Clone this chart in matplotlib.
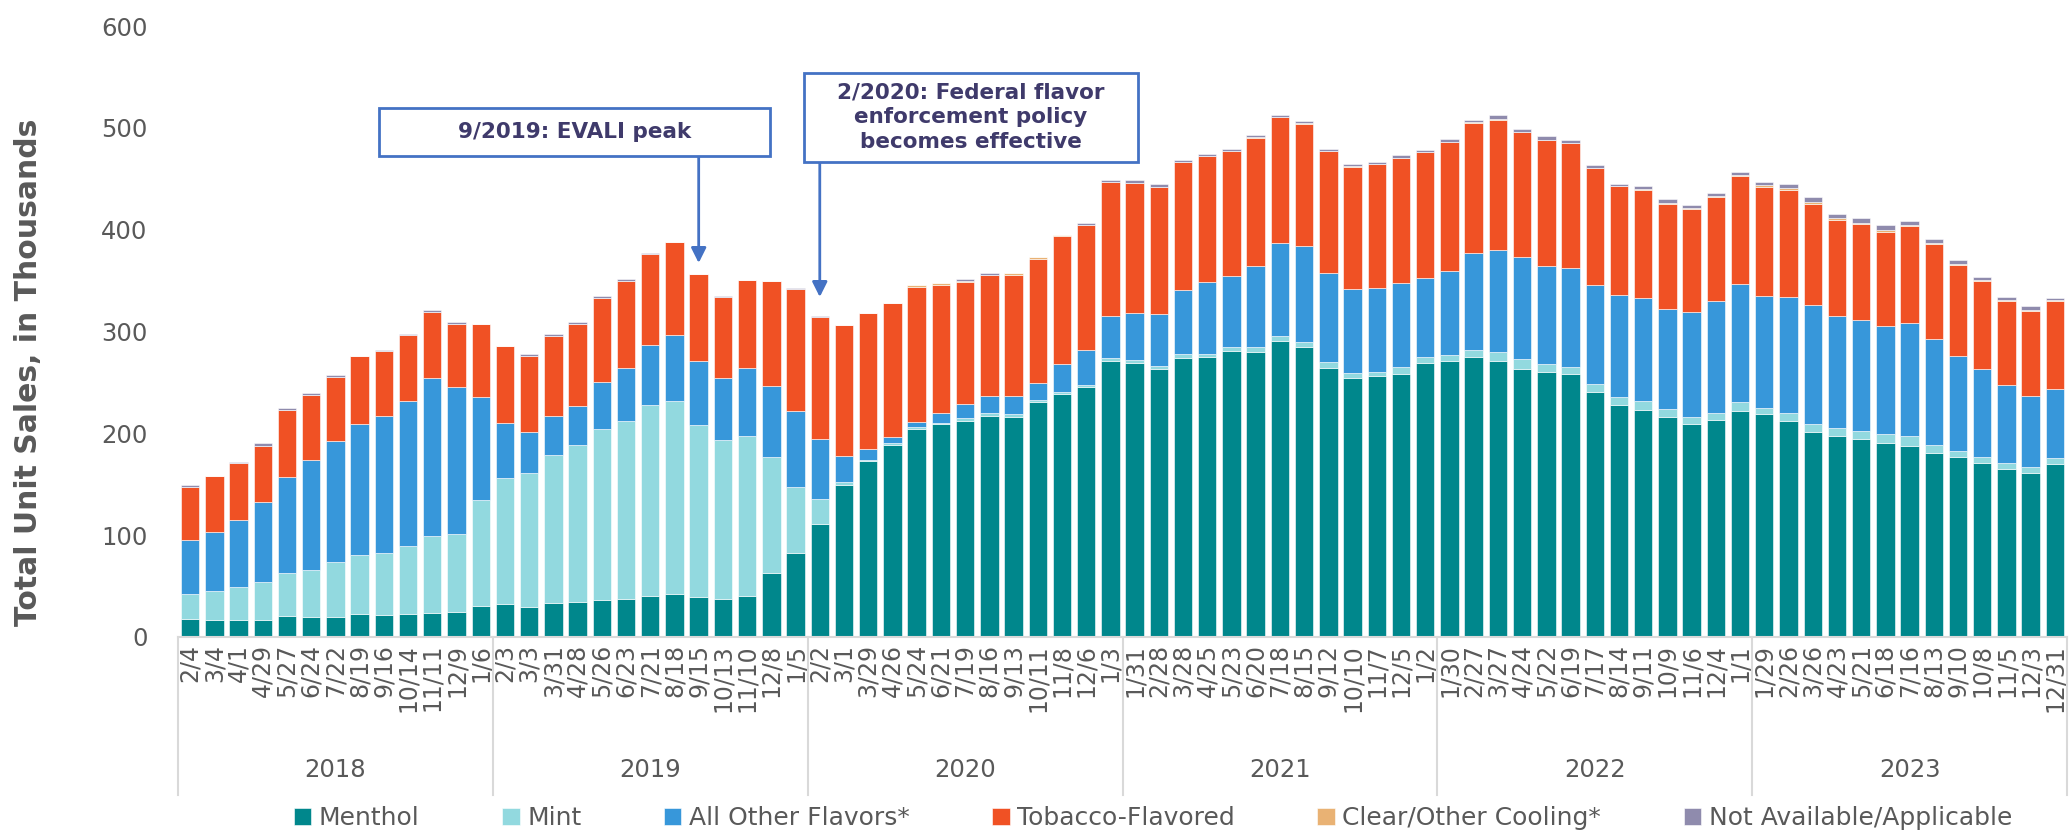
import matplotlib
matplotlib.use("Agg")
import matplotlib.pyplot as plt
from matplotlib.patches import Rectangle
import numpy as np

plt.rcParams['font.family'] = ['DejaVu Sans']

# ---------------- data ----------------
years = ["2018", "2019", "2020", "2021", "2022", "2023"]
periods = [
    "2/4", "3/4", "4/1", "4/29", "5/27", "6/24", "7/22", "8/19", "9/16", "10/14", "11/11", "12/9", "1/6",
    "2/3", "3/3", "3/31", "4/28", "5/26", "6/23", "7/21", "8/18", "9/15", "10/13", "11/10", "12/8", "1/5",
    "2/2", "3/1", "3/29", "4/26", "5/24", "6/21", "7/19", "8/16", "9/13", "10/11", "11/8", "12/6", "1/3",
    "1/31", "2/28", "3/28", "4/25", "5/23", "6/20", "7/18", "8/15", "9/12", "10/10", "11/7", "12/5", "1/2",
    "1/30", "2/27", "3/27", "4/24", "5/22", "6/19", "7/17", "8/14", "9/11", "10/9", "11/6", "12/4", "1/1",
    "1/29", "2/26", "3/26", "4/23", "5/21", "6/18", "7/16", "8/13", "9/10", "10/8", "11/5", "12/3", "12/31",
]

menthol = [18, 17, 17, 17, 20.5, 19.5, 20, 22.6, 21.6, 22.6,
           23.3, 25, 30.6, 32.4, 29.2, 33.4, 34.1, 36.5, 37.6, 40,
           42, 39.3, 37.2, 40.7, 62.6, 82.8, 111.4, 149.6, 173, 188.6,
           204.3, 209, 212.6, 216.8, 215.8, 230.7, 238.4, 245.7, 271.4, 269.4,
           263.4, 273.9, 274.6, 280.5, 280, 290.6, 284.7, 264.1, 254.4, 256,
           258.6, 268.7, 270.7, 274.6, 271, 263.4, 260, 258.2, 240.8, 228.3,
           223.4, 215.8, 208.8, 213, 222, 218.5, 212.3, 201.1, 197.3, 194.9,
           190.4, 187.6, 180.6, 176.8, 171.2, 164.6, 160.8, 169.5]

mint = [24, 28, 32, 37, 42.5, 46, 54, 58, 61, 66.5,
        75.5, 76, 104.4, 124, 132, 145.5, 154, 168, 175, 187.6,
        190, 169, 156.6, 157, 114, 64.4, 24.3, 2.5, 1, 1.8,
        1.7, 1.5, 2, 2.8, 2.7, 2, 2.4, 2, 2.5, 2.8,
        2.8, 3.8, 3.4, 3.8, 4.7, 5.2, 4.8, 6.3, 4.5, 4.6,
        6.2, 6.6, 6, 7, 8.8, 9.4, 8, 7.3, 7.7, 7.7,
        8, 8.3, 7, 7.3, 8.4, 6.7, 7.7, 7.7, 8, 7.6,
        9.4, 9.4, 8.4, 5.6, 5.9, 6.3, 5.9, 6.2]

other_flavors = [53, 58, 66, 79, 94.6, 108, 118.6, 129, 134.7, 142.4,
                 155.6, 144.8, 100.2, 53.5, 40, 38, 38.6, 45.7, 51.5, 58.8,
                 65, 62.5, 60.6, 66, 70, 74.8, 59, 26, 10.4, 5.6,
                 5.6, 9, 14, 17, 18, 16.7, 27, 34, 41, 46,
                 50.5, 63, 71, 70, 80, 91.5, 94.7, 87, 83, 82.5,
                 82.5, 77.2, 82.4, 95.4, 100.6, 100.6, 96, 96.4, 97, 99.8,
                 101.6, 98, 103, 109.3, 116.2, 109.2, 114, 117.6, 109.7, 109,
                 105.4, 111.7, 104, 93.9, 85.6, 76.5, 69.9, 67.6]

tobacco = [52, 55, 56, 55, 65, 64, 62.6, 66, 64, 65.4,
           65, 62, 72, 76, 75, 79, 81, 83, 85.8, 90,
           90.5, 85.6, 79.7, 87, 102.7, 120, 120, 128, 133.6, 131.8,
           132, 126.3, 120.4, 118.4, 119.4, 121.8, 125.6, 123, 131.5, 127.8,
           125.3, 125.6, 123.2, 122.7, 125.6, 122.9, 120, 120, 120, 121,
           122.8, 123.5, 127, 128, 127.7, 122.5, 124.2, 123.1, 114.8, 106.9,
           105.5, 103.4, 101.6, 102.3, 105.8, 107.6, 105.2, 98.9, 94.6, 94,
           92.6, 94.6, 92.6, 89.4, 86.7, 82.5, 83.6, 86.6]

clear_cooling = [0] * 30 + \
    [2, 1.7, 0.3, 0.3, 1.7, 2, 1.7, 0.3, 0.3, 0.3,
     0.3, 0.3, 0.3, 0.3, 0.3, 0.3, 0.3, 0.3, 0.3, 0.3,
     0.3, 0.3, 0.3, 0.3, 0.3, 0.3, 0.3, 0.3, 0.3, 0.3,
     1, 1, 1, 1, 1.3, 1.5, 1.5, 1.5, 1.5, 1.5,
     1.5, 1.5, 1.5, 1, 1, 1, 1, 1]

not_available = [2, 0.5, 0.5, 2.5, 2.4, 2, 2.5, 0.5, 0.5, 0.5,
                 1.7, 2, 0.3, 0.3, 1.7, 2, 1.7, 2, 1.8, 0.3,
                 0.3, 0.3, 0.3, 0.3, 0.3, 0.3, 0.3, 0.3, 0.3, 0.3,
                 0, 0, 1.8, 2.4, 0, 0, 0, 1.8, 2.5, 2.4,
                 2.4, 1.7, 2.1, 2.2, 2.1, 2.1, 2, 1.7, 2.5, 2.5,
                 2.5, 2.2, 3.1, 2.8, 4.2, 2.8, 3.2, 3.2, 2.8, 2.3,
                 3.5, 3.5, 2.8, 3, 3.2, 3.7, 3.7, 5, 4.1, 4.8,
                 5.4, 4.1, 4.1, 3.9, 2.8, 3.2, 3.5, 1.8]

series_names = ["Menthol", "Mint", "All Other Flavors*", "Tobacco-Flavored",
                "Clear/Other Cooling*", "Not Available/Applicable"]
series_values = [menthol, mint, other_flavors, tobacco, clear_cooling, not_available]
series_colors = ["#00878C", "#92D9DF", "#3797DA", "#F05124", "#E9B274", "#8F8BAD"]

annotation_1 = "9/2019: EVALI peak"
annotation_2 = "2/2020: Federal flavor\nenforcement policy\nbecomes effective"

# ---------------- figure ----------------
W, H = 2070, 835
fig = plt.figure(figsize=(W / 100, H / 100), dpi=100)
ax_left, ax_right, ax_top, ax_bottom = 178, 2067, 26, 637
ax = fig.add_axes([ax_left / W, (H - ax_bottom) / H,
                   (ax_right - ax_left) / W, (ax_bottom - ax_top) / H])

x = np.arange(len(periods))
bottom = np.zeros(len(periods))
handles = []
for name, vals, col in zip(series_names, series_values, series_colors):
    v = np.array(vals, dtype=float)
    b = ax.bar(x, v, bottom=bottom, width=0.76, color=col, label=name,
               edgecolor="white", linewidth=0.4)
    handles.append(b)
    bottom += v

ax.set_xlim(-0.5, len(periods) - 0.5)
ax.set_ylim(0, 600)
ax.set_yticks(np.arange(0, 601, 100))
ax.tick_params(axis="y", length=0, pad=22, labelsize=17.5, labelcolor="#595959")
ax.set_xticks(x)
ax.set_xticklabels(periods, rotation=90, fontsize=17, color="#595959")
ax.tick_params(axis="x", length=0, pad=5)

for s in ["left", "top", "right"]:
    ax.spines[s].set_visible(False)
ax.spines["bottom"].set_color("#D9D9D9")
ax.spines["bottom"].set_linewidth(1.5)

# year group separators and labels
trans = ax.get_xaxis_transform()
axh = ax_bottom - ax_top
sep_bottom = -(795 - ax_bottom) / axh
for k in range(len(years) + 1):
    xs = -0.5 + 13 * k
    ax.plot([xs, xs], [0, sep_bottom], transform=trans, color="#D9D9D9",
            lw=1.5, clip_on=False)
for k, yr in enumerate(years):
    ax.text(6 + 13 * k, -(770 - ax_bottom) / axh, yr, transform=trans,
            ha="center", va="center", fontsize=17.5, color="#595959")

# y label
fig.text(29 / W, 1 - 372 / H, "Total Unit Sales, in Thousands", rotation=90,
         ha="center", va="center", fontsize=21.5, fontweight="bold", color="#595959")

# annotation boxes
box_color = "#4472C4"
txt_color = "#3F3A6B"
def px_rect(x0, y0, x1, y1):
    return Rectangle((x0 / W, 1 - y1 / H), (x1 - x0) / W, (y1 - y0) / H,
                     transform=fig.transFigure, facecolor="white",
                     edgecolor=box_color, lw=2, zorder=5)
fig.patches.append(px_rect(379, 108, 770, 156))
fig.text((379 + 770) / 2 / W, 1 - 132 / H, annotation_1, ha="center", va="center",
         fontsize=15.5, fontweight="bold", color=txt_color, zorder=6)
fig.patches.append(px_rect(804, 73, 1138, 162))
fig.text((804 + 1138) / 2 / W, 1 - 117 / H, annotation_2, ha="center", va="center",
         fontsize=15.5, fontweight="bold", color=txt_color, linespacing=1.3, zorder=6)

def val(ypix):
    return (ax_bottom - ypix) / (ax_bottom - ax_top) * 600

arrowprops = dict(arrowstyle="-|>,head_length=0.9,head_width=0.45",
                  color=box_color, lw=2, shrinkA=0, shrinkB=0)
ax.annotate("", xy=(21, val(263)), xytext=(21, val(156)), arrowprops=arrowprops,
            annotation_clip=False)
ax.annotate("", xy=(26, val(297)), xytext=(26, val(162)), arrowprops=arrowprops,
            annotation_clip=False)

# legend
leg = fig.legend(handles=handles, labels=series_names, loc="center",
                 bbox_to_anchor=(1153 / W, 1 - 818 / H), ncol=6, frameon=False,
                 fontsize=18, handlelength=0.7, handleheight=0.7,
                 handletextpad=0.3, columnspacing=3.3, labelcolor="#595959")

fig.savefig("out.png", dpi=100, facecolor="white")
